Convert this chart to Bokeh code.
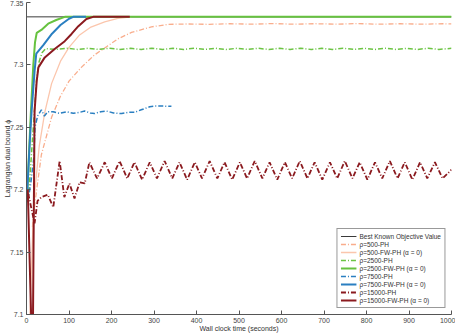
from bokeh.plotting import figure
from bokeh.models import Range1d, Legend, LegendItem, FixedTicker
from bokeh.embed import file_html
from bokeh.resources import INLINE

# ---------------- data ----------------
best_t = [0, 1000]
best_v = [7.3385, 7.3385]

r500_ph_t = [14, 20, 35, 59, 80, 100, 129, 160, 190, 216, 247, 294, 334, 380, 430, 480, 530, 580, 630, 680, 730, 780, 830, 880, 930, 980, 1000]
r500_ph_v = [7.17, 7.19, 7.228, 7.258, 7.275, 7.287, 7.298, 7.308, 7.315, 7.321, 7.326, 7.3305, 7.3325, 7.3328, 7.3325, 7.3330, 7.3326, 7.3331, 7.3326, 7.3330, 7.3326, 7.3331, 7.3326, 7.3330, 7.3326, 7.3330, 7.3328]

r500_fw_t = [8, 15, 20, 30, 43, 59, 80, 100, 125, 150, 184, 215, 247]
r500_fw_v = [7.10, 7.17, 7.20, 7.235, 7.262, 7.285, 7.303, 7.314, 7.324, 7.330, 7.3345, 7.3372, 7.3385]

r2500_ph_t = [4, 12, 19, 24, 30, 37, 45, 70, 95, 120, 145, 170, 195, 220, 245, 270, 295, 320, 345, 370, 395, 420, 445, 470, 495, 520, 545, 570, 595, 620, 645, 670, 695, 720, 745, 770, 795, 820, 845, 870, 895, 920, 945, 970, 1000]
r2500_ph_v = [7.19, 7.23, 7.265, 7.29, 7.303, 7.310, 7.3130,
              7.3124, 7.3133, 7.3124, 7.3133, 7.3124, 7.3133, 7.3124, 7.3133, 7.3124,
              7.3133, 7.3124, 7.3133, 7.3124, 7.3133, 7.3124, 7.3133, 7.3124, 7.3133,
              7.3124, 7.3133, 7.3124, 7.3133, 7.3124, 7.3133, 7.3124, 7.3133, 7.3124,
              7.3133, 7.3124, 7.3133, 7.3124, 7.3133, 7.3124, 7.3133, 7.3124, 7.3133,
              7.3124, 7.3133]

r2500_fw_t = [2, 10, 16, 20, 24, 35, 51, 70, 90, 1000]
r2500_fw_v = [7.20, 7.26, 7.30, 7.318, 7.3256, 7.328, 7.333, 7.336, 7.3385, 7.3385]

r7500_ph_t = [3, 10, 17, 20, 26, 35, 42, 50, 63, 78, 95, 110, 125, 137, 150, 160, 175, 188, 205, 224, 240, 254, 270, 290, 302, 320, 341]
r7500_ph_v = [7.19, 7.205, 7.225, 7.25, 7.259, 7.264, 7.259, 7.2625, 7.2625, 7.2612, 7.2625, 7.2612, 7.262, 7.263, 7.2615, 7.261, 7.2625, 7.263, 7.2615, 7.261, 7.262, 7.262, 7.264, 7.2665, 7.267, 7.267, 7.2668]

r7500_fw_t = [2, 8, 12, 19, 23, 40, 60, 80, 100, 110, 140]
r7500_fw_v = [7.20, 7.24, 7.263, 7.295, 7.309, 7.316, 7.325, 7.332, 7.337, 7.3385, 7.3385]

r15000_ph_t = [4, 19, 26, 35, 50, 63, 78, 89, 101, 113, 125, 137, 148,
               166, 184, 201, 219, 237, 254, 272, 290, 307, 325, 343, 360, 378, 396,
               413, 431, 449, 466, 484, 502, 519, 537, 555, 572, 590, 608, 625, 643,
               661, 678, 696, 714, 731, 749, 767, 784, 802, 820, 837, 855, 873, 890,
               908, 926, 943, 961, 979, 1000]
r15000_ph_v = [7.197, 7.173, 7.191, 7.194, 7.196, 7.186, 7.223, 7.194, 7.205, 7.193, 7.206, 7.205, 7.222,
               7.209, 7.222, 7.209, 7.223, 7.209, 7.222, 7.208, 7.222, 7.209, 7.223, 7.209, 7.222, 7.208, 7.222,
               7.209, 7.223, 7.209, 7.222, 7.208, 7.222, 7.209, 7.223, 7.209, 7.222, 7.208, 7.222, 7.209, 7.223,
               7.209, 7.222, 7.208, 7.222, 7.209, 7.223, 7.209, 7.222, 7.208, 7.222, 7.209, 7.223, 7.209, 7.222,
               7.208, 7.222, 7.209, 7.222, 7.209, 7.216]

r15000_fw_t = [3, 12, 15, 19, 24, 28, 43, 67, 90, 106, 122, 141, 157, 243]
r15000_fw_v = [7.20, 7.085, 7.085, 7.263, 7.287, 7.298, 7.306, 7.313, 7.319, 7.3248, 7.331, 7.3368, 7.3385, 7.3385]

x_ticks = [0, 100, 200, 300, 400, 500, 600, 700, 800, 900, 1000]
y_ticks = [7.1, 7.15, 7.2, 7.25, 7.3, 7.35]
y_tick_labels = ["7.1", "7.15", "7.2", "7.25", "7.3", "7.35"]

labels = ["Best Known Objective Value",
          "ρ=500-PH", "ρ=500-FW-PH (α = 0)",
          "ρ=2500-PH", "ρ=2500-FW-PH (α = 0)",
          "ρ=7500-PH", "ρ=7500-FW-PH (α = 0)",
          "ρ=15000-PH", "ρ=15000-FW-PH (α = 0)"]

# ---------------- figure ----------------
FONT = "Liberation Sans"
p = figure(width=455, height=334, output_backend="svg", toolbar_location=None,
           x_range=Range1d(0, 1000), y_range=Range1d(7.1, 7.35),
           min_border_left=0, min_border_right=4, min_border_top=2, min_border_bottom=0)
p.outline_line_color = None
p.xgrid.visible = False
p.ygrid.visible = False
p.background_fill_color = "white"
p.border_fill_color = "white"

for ax in (p.xaxis[0], p.yaxis[0]):
    ax.major_tick_in = 4
    ax.major_tick_out = 0
    ax.minor_tick_in = 0
    ax.minor_tick_out = 0
    ax.axis_line_color = "#555555"
    ax.major_tick_line_color = "#555555"
    ax.major_label_text_font = FONT
    ax.major_label_text_font_size = "7px"
    ax.major_label_text_color = "#444444"
    ax.axis_label_text_font = FONT
    ax.axis_label_text_font_size = "7px"
    ax.axis_label_text_font_style = "normal"
    ax.axis_label_text_color = "#333333"

p.xaxis.ticker = FixedTicker(ticks=x_ticks)
p.yaxis.ticker = FixedTicker(ticks=y_ticks)
p.yaxis.major_label_overrides = {t: s for t, s in zip(y_ticks, y_tick_labels)}
p.xaxis.major_label_standoff = 3
p.yaxis.major_label_standoff = 3

p.yaxis.axis_label = "Lagrangian dual bound ϕ"
p.yaxis.axis_label_standoff = -4
p.xaxis.axis_label = "Wall clock time (seconds)"
p.xaxis.axis_label_standoff = -1

dash = "5 2 1 2"
series = [
    (best_t, best_v, "#3a3a3a", 1.0, "solid"),
    (r500_ph_t, r500_ph_v, "#f9ad8c", 1.3, dash),
    (r500_fw_t, r500_fw_v, "#fbc6ad", 1.3, "solid"),
    (r2500_ph_t, r2500_ph_v, "#6cc444", 1.5, dash),
    (r2500_fw_t, r2500_fw_v, "#66c23f", 2.0, "solid"),
    (r7500_ph_t, r7500_ph_v, "#2a7fc1", 1.5, dash),
    (r7500_fw_t, r7500_fw_v, "#2a7fc1", 2.0, "solid"),
    (r15000_ph_t, r15000_ph_v, "#8b1a1f", 1.8, dash),
    (r15000_fw_t, r15000_fw_v, "#8b1a1f", 2.0, "solid"),
]

items = []
for (t, v, c, w, d), lab in zip(series, labels):
    r = p.line(t, v, line_color=c, line_width=w, line_dash=d)
    items.append(LegendItem(label=lab, renderers=[r]))

legend = Legend(items=items, location="bottom_right")
legend.label_text_font = FONT
legend.label_text_font_size = "6.5px"
legend.label_text_color = "#333333"
legend.label_height = 8
legend.glyph_height = 8
legend.glyph_width = 16
legend.label_standoff = 3
legend.spacing = 0
legend.padding = 3
legend.margin = 6
legend.border_line_color = "#333333"
legend.border_line_width = 1
legend.background_fill_alpha = 1.0
p.add_layout(legend, "center")

open("out.html", "w").write(file_html(p, INLINE))
